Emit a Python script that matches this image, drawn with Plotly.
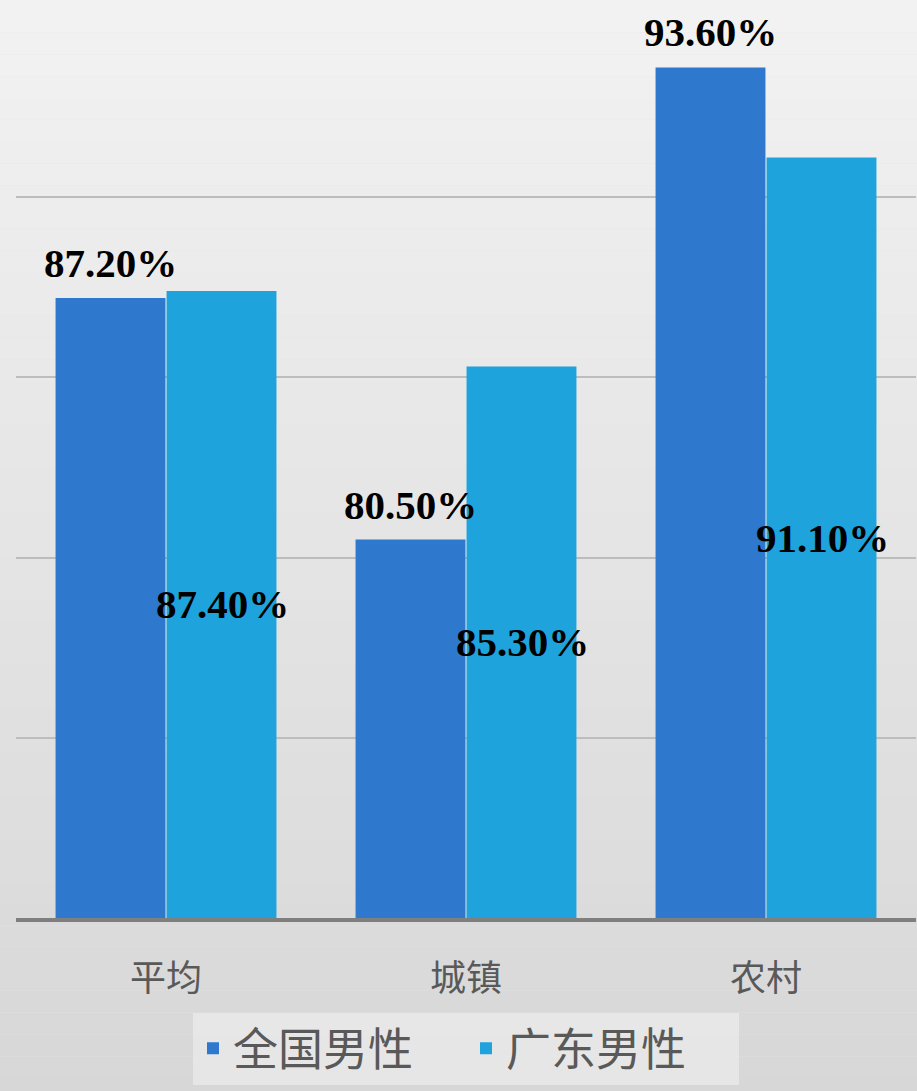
import plotly.graph_objects as go

categories = ["平均", "城镇", "农村"]
national_male = [87.2, 80.5, 93.6]
guangdong_male = [87.4, 85.3, 91.1]
series_names = ["全国男性", "广东男性"]

y_min, y_max = 70, 95
dark_blue = "#2E78CE"
light_blue = "#1EA3DD"
label_font = dict(family="Liberation Serif", size=41, color="#000000")

fig = go.Figure()
fig.add_trace(go.Bar(
    name=series_names[0], x=categories, y=national_male,
    marker=dict(color=dark_blue, line=dict(width=0)),
    hoverinfo="skip",
))
fig.add_trace(go.Bar(
    name=series_names[1], x=categories, y=guangdong_male,
    marker=dict(color=light_blue, line=dict(width=0)),
    hoverinfo="skip",
))

# national labels sit above their bars
for cat, v in zip(categories, national_male):
    fig.add_annotation(
        x=cat, y=v, xref="x", yref="y", text=f"<b>{v:.2f}%</b>",
        showarrow=False, yanchor="bottom", xshift=-56, yshift=10,
        font=label_font,
    )
# Guangdong labels sit in the middle of their bars
for cat, v in zip(categories, guangdong_male):
    fig.add_annotation(
        x=cat, y=(y_min + v) / 2, xref="x", yref="y", text=f"<b>{v:.2f}%</b>",
        showarrow=False, yanchor="middle", xshift=56,
        font=label_font,
    )

# soft vertical background gradient
n = 60
top_rgb = (246, 246, 246)
bot_rgb = (214, 214, 214)
for i in range(n):
    t = i / (n - 1)
    c = tuple(int(round(top_rgb[k] + (bot_rgb[k] - top_rgb[k]) * t)) for k in range(3))
    fig.add_shape(
        type="rect", xref="paper", yref="paper", layer="below",
        x0=-0.05, x1=1.05,
        y0=1.2 - (i + 1) * (1.2 + 0.25) / n,
        y1=1.2 - i * (1.2 + 0.25) / n,
        fillcolor=f"rgb{c}", line=dict(width=0),
    )

fig.update_layout(
    width=917, height=1091,
    margin=dict(l=16, r=1, t=17, b=173),
    paper_bgcolor="#e4e4e4", plot_bgcolor="rgba(0,0,0,0)",
    barmode="group", bargap=0.26, bargroupgap=0.01,
    showlegend=True,
    legend=dict(
        orientation="h", x=0.5, xanchor="center", y=-0.105, yanchor="top",
        font=dict(family="Noto Sans CJK SC", size=45, color="#595959"),
        bgcolor="rgba(234,234,234,0.8)", itemwidth=30,
        entrywidth=228, entrywidthmode="pixels",
    ),
    font=dict(family="Noto Sans CJK SC"),
)
fig.update_xaxes(
    showline=True, linecolor="#7f7f7f", linewidth=4,
    ticks="", tickfont=dict(family="Noto Sans CJK SC", size=36, color="#595959"),
    ticklabelstandoff=26,
)
fig.update_yaxes(
    range=[y_min, y_max], dtick=5, showticklabels=False,
    showgrid=True, gridcolor="#bdbdbd", gridwidth=1.5, zeroline=False,
)

fig.write_html("out.html")
